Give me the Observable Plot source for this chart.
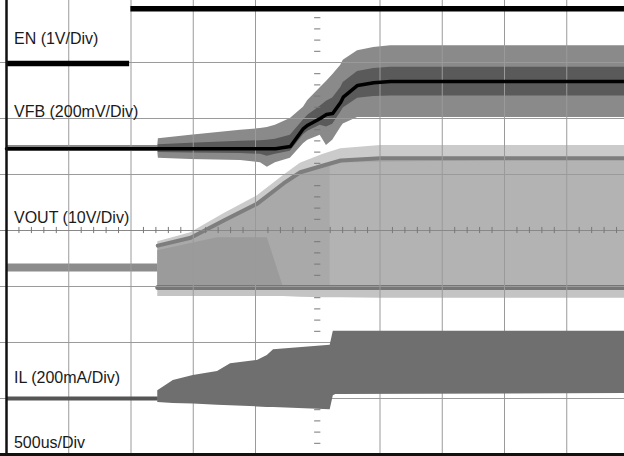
<!DOCTYPE html>
<html>
<head>
<meta charset="utf-8">
<script src="https://cdn.jsdelivr.net/npm/d3@7"></script>
<script src="https://cdn.jsdelivr.net/npm/@observablehq/plot@0.6"></script>
<style>
  html, body { margin: 0; padding: 0; background: #fff; }
  #chart svg { display: block; }
</style>
</head>
<body>
<div id="chart"></div>
<script>
// ---- Data (time in divisions of 500us, level in vertical divisions) ----
const gridX = [1, 2, 3, 4, 6, 7, 8, 9];
const gridY = [-3, -2, -1, 1, 2, 3];
const minorStep = 0.2;

const enTime    = [0, 1.97, 1.99, 10];
const enLevel   = [2.98, 2.98, 3.96, 3.96];
const enSegment = ["low", "low", "high", "high"];

const vfbTime = [0, 2.43, 2.44, 2.96, 3.76, 4.08, 4.19, 4.32, 4.56, 4.77, 4.84, 5.04, 5.14, 5.24, 5.37, 5.41, 5.64, 5.9, 6.17, 6.33, 10];
const vfbMid  = [1.46, 1.46, 1.46, 1.46, 1.46, 1.46, 1.46, 1.46, 1.5, 1.82, 1.88, 2.0, 2.07, 2.09, 2.29, 2.38, 2.59, 2.64, 2.66, 2.66, 2.66];
const vfbHigh = [1.52, 1.52, 1.64, 1.70, 1.79, 1.82, 1.84, 1.88, 2.0, 2.2, 2.32, 2.55, 2.66, 2.78, 2.95, 3.04, 3.21, 3.27, 3.30, 3.30, 3.30];
const vfbLow  = [1.41, 1.41, 1.29, 1.27, 1.25, 1.21, 1.13, 1.21, 1.29, 1.55, 1.61, 1.70, 1.52, 1.61, 1.84, 1.9, 2.02, 2.02, 2.02, 2.02, 2.02];

const voutBaseTime  = [0, 2.43];
const voutBaseLevel = [-0.66, -0.66];
const voutTime   = [2.43, 2.96, 3.49, 4.03, 4.45, 4.72, 5.09, 5.37, 6.01, 10];
const voutTop    = [-0.27, -0.13, 0.18, 0.48, 0.84, 1.04, 1.16, 1.25, 1.29, 1.29];
const voutFuzz   = [-0.2, -0.04, 0.3, 0.62, 0.98, 1.2, 1.36, 1.46, 1.52, 1.52];
const voutBottom = [-1.02, -1.02, -1.02, -1.02, -1.02, -1.02, -1.02, -1.02, -1.02, -1.02];
const voutFuzzLow = [-1.18, -1.18, -1.18, -1.18, -1.18, -1.19, -1.2, -1.2, -1.21, -1.21];
const voutDarkTime = [2.43, 3.39, 4.19, 4.45];
const voutDarkTop  = [-0.36, -0.13, -0.13, -1.02];
const voutLightTime = [5.2, 10];
const voutLightTop  = [1.2, 1.29];

const ilBaseTime  = [0, 2.43];
const ilBaseLevel = [-3.0, -3.0];
const ilTime   = [2.43, 2.68, 3.0, 3.39, 3.6, 4.03, 4.19, 4.29, 5.2, 5.25, 5.29, 10];
const ilTop    = [-2.86, -2.68, -2.59, -2.52, -2.38, -2.32, -2.23, -2.13, -2.05, -1.80, -1.80, -1.80];
const ilBottom = [-3.07, -3.09, -3.1, -3.12, -3.13, -3.15, -3.16, -3.16, -3.20, -2.95, -2.93, -2.91];

const labels = ["EN (1V/Div)", "VFB (200mV/Div)", "VOUT (10V/Div)", "IL (200mA/Div)", "500us/Div"];
const labelLevels = [3.43, 2.11, 0.23, -2.63, -3.79];

// ---- Tables ----
const zip = (keys, ...cols) => cols[0].map((_, i) => Object.fromEntries(keys.map((k, j) => [k, cols[j][i]])));
const en   = zip(["t", "v", "s"], enTime, enLevel, enSegment);
const vfb  = zip(["t", "m", "h", "l"], vfbTime, vfbMid, vfbHigh, vfbLow);
const vfbInner = vfb.map(d => ({t: d.t, h: d.m + (d.h - d.m) * 0.4, l: d.m - (d.m - d.l) * 0.4}));
const voutBase = zip(["t", "v"], voutBaseTime, voutBaseLevel);
const vout = zip(["t", "top", "fz", "bot", "fzl"], voutTime, voutTop, voutFuzz, voutBottom, voutFuzzLow);
const voutDark = zip(["t", "top"], voutDarkTime, voutDarkTop);
const voutLight = zip(["t", "top"], voutLightTime, voutLightTop);
const ilBase = zip(["t", "v"], ilBaseTime, ilBaseLevel);
const il = zip(["t", "top", "bot"], ilTime, ilTop, ilBottom);
const lab = zip(["text", "y"], labels, labelLevels);
const ticksX = d3.range(1, 50).map(i => i * minorStep).filter(v => Math.abs(v - Math.round(v)) > 0.01);
const ticksY = d3.range(-19, 20).map(i => i * minorStep).filter(v => Math.abs(v - Math.round(v)) > 0.01);

const chart = Plot.plot({
  width: 624,
  height: 456,
  margin: 0,
  style: {background: "#fff", fontFamily: "'Liberation Sans', Arial, sans-serif"},
  x: {type: "linear", domain: [0, 10], range: [6, 628.5], axis: null},
  y: {type: "linear", domain: [-4, 4], range: [454, 6], axis: null},
  marks: [
    // VOUT
    Plot.line(voutBase, {x: "t", y: "v", stroke: "#8c8c8c", strokeWidth: 8, strokeLinecap: "butt"}),
    Plot.areaY(vout, {x: "t", y1: "top", y2: "fz", fill: "#cbcbcb"}),
    Plot.areaY(vout, {x: "t", y1: "bot", y2: "fzl", fill: "#c4c4c4"}),
    Plot.areaY(vout, {x: "t", y1: "bot", y2: "top", fill: "#a9a9a9"}),
    Plot.areaY(voutLight, {x: "t", y1: () => -1.02, y2: "top", fill: "#b3b3b3"}),
    Plot.areaY(voutDark, {x: "t", y1: () => -1.02, y2: "top", fill: "#9b9b9b"}),
    Plot.line(vout, {x: "t", y: "top", stroke: "#7e7e7e", strokeWidth: 4}),
    Plot.line(vout, {x: "t", y: "bot", stroke: "#777", strokeWidth: 5}),
    // VFB envelope
    Plot.areaY(vfb, {x: "t", y1: "l", y2: "h", fill: "#8a8a8a"}),
    Plot.areaY(vfbInner, {x: "t", y1: "l", y2: "h", fill: "#5a5a5a"}),
    // grid
    Plot.ruleX(gridX, {stroke: "#9a9a9a", strokeWidth: 1}),
    Plot.ruleY(gridY, {stroke: "#9a9a9a", strokeWidth: 1}),
    Plot.ruleY([0], {stroke: "#888", strokeWidth: 1}),
    Plot.ruleX(ticksX, {x: d => d, y1: () => -0.055, y2: () => 0.055, stroke: "#777", strokeWidth: 1}),
    Plot.ruleY(ticksY, {y: d => d, x1: () => 4.95, x2: () => 5.05, stroke: "#777", strokeWidth: 1}),
    // VFB core
    Plot.line(vfb, {x: "t", y: "m", stroke: "#000", strokeWidth: 3.5}),
    // IL
    Plot.line(ilBase, {x: "t", y: "v", stroke: "#555", strokeWidth: 4, strokeLinecap: "butt"}),
    Plot.areaY(il, {x: "t", y1: "bot", y2: "top", fill: "#6f6f6f"}),
    // EN
    Plot.line(en, {x: "t", y: "v", z: "s", stroke: "#000", strokeWidth: 5.5, strokeLinecap: "butt"}),
    // frame
    Plot.ruleX([0], {stroke: "#111", strokeWidth: 2.5}),
    Plot.ruleY([-4], {stroke: "#111", strokeWidth: 3}),
    // labels
    Plot.text(lab, {x: () => 0.12, y: "y", text: "text", textAnchor: "start", fontSize: 16, fill: "#1a1a1a"})
  ]
});
document.getElementById("chart").append(chart);
</script>
</body>
</html>
